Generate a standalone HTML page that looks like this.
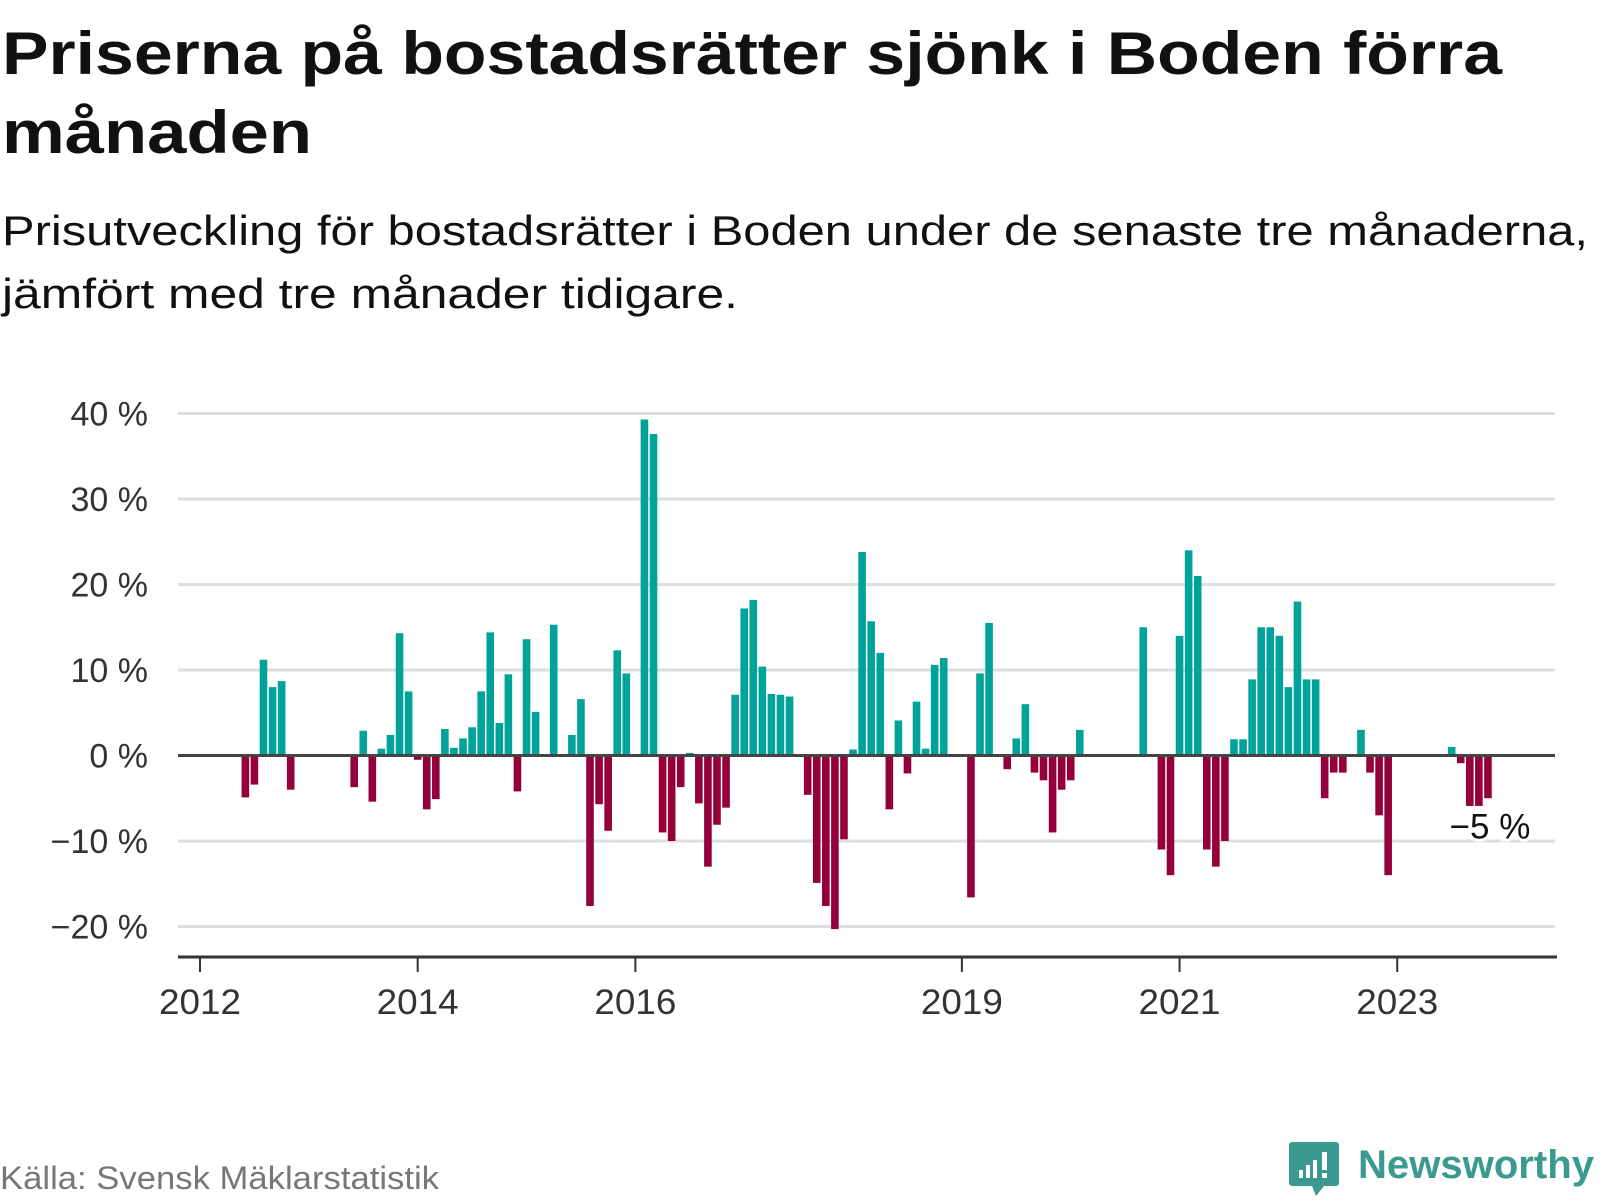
<!DOCTYPE html>
<html><head><meta charset="utf-8"><style>
html,body{margin:0;padding:0;background:#fff;}
svg{display:block;font-family:"Liberation Sans",sans-serif;}
</style></head><body>
<svg id="chart" width="1600" height="1200" viewBox="0 0 1600 1200">
<text x="2" y="74" font-size="60" font-weight="bold" fill="#111" textLength="1500" lengthAdjust="spacingAndGlyphs">Priserna på bostadsrätter sjönk i Boden förra</text>
<text x="2" y="153" font-size="60" font-weight="bold" fill="#111" textLength="310" lengthAdjust="spacingAndGlyphs">månaden</text>
<text x="2" y="245" font-size="42" fill="#111" textLength="1586" lengthAdjust="spacingAndGlyphs">Prisutveckling för bostadsrätter i Boden under de senaste tre månaderna,</text>
<text x="2" y="308" font-size="42" fill="#111" textLength="736" lengthAdjust="spacingAndGlyphs">jämfört med tre månader tidigare.</text>
<g id="grid"></g>
<g id="bars"></g>
<g id="axes"></g>
<text x="0" y="1189" font-size="32" fill="#777" textLength="439" lengthAdjust="spacingAndGlyphs">Källa: Svensk Mäklarstatistik</text>
<g>
<path d="M1292 1142 h44 a3 3 0 0 1 3 3 v38 a3 3 0 0 1 -3 3 h-12 l-8 10 l-4 -10 h-20 a3 3 0 0 1 -3 -3 v-38 a3 3 0 0 1 3 -3z" fill="#3a9a8f"/>
<rect x="1299" y="1170" width="4" height="8" fill="#fff"/>
<rect x="1306" y="1165" width="4" height="13" fill="#fff"/>
<rect x="1313" y="1160" width="4" height="18" fill="#fff"/>
<rect x="1322" y="1152" width="5" height="18" fill="#fff"/>
<rect x="1322" y="1173" width="5" height="5" fill="#fff"/>
<text x="1358" y="1178" font-size="40" font-weight="bold" fill="#3a9a8f" textLength="236" lengthAdjust="spacingAndGlyphs">Newsworthy</text>
</g>
</svg>
<script>
const monthIndex = [5,6,7,8,9,10,17,18,19,20,21,22,23,24,25,26,27,28,29,30,31,32,33,34,35,36,37,39,41,42,43,44,45,46,47,49,50,51,52,53,54,55,56,57,58,59,60,61,62,63,64,65,67,68,69,70,71,72,73,74,75,76,77,78,79,80,81,82,85,86,87,89,90,91,92,93,94,95,96,97,104,106,107,108,109,110,111,112,113,114,115,116,117,118,119,120,121,122,123,124,125,126,128,129,130,131,138,139,140,141,142];
const changeValues = [-4.9,-3.4,11.2,8.0,8.7,-4.0,-3.7,2.9,-5.4,0.8,2.4,14.3,7.5,-0.5,-6.3,-5.1,3.1,0.9,2.0,3.3,7.5,14.4,3.8,9.5,-4.2,13.6,5.1,15.3,2.4,6.6,-17.6,-5.7,-8.8,12.3,9.6,39.3,37.6,-9.0,-10.0,-3.7,0.3,-5.6,-13.0,-8.1,-6.1,7.1,17.2,18.2,10.4,7.2,7.1,6.9,-4.6,-14.9,-17.6,-20.3,-9.8,0.7,23.8,15.7,12.0,-6.3,4.1,-2.1,6.3,0.8,10.6,11.4,-16.6,9.6,15.5,-1.6,2.0,6.0,-2.0,-2.9,-9.0,-4.0,-2.9,3.0,15.0,-11.0,-14.0,14.0,24.0,21.0,-11.0,-13.0,-10.0,1.9,1.9,8.9,15.0,15.0,14.0,8.0,18.0,8.9,8.9,-5.0,-2.0,-2.0,3.0,-2.0,-7.0,-14.0,1.0,-0.9,-5.9,-5.9,-5.0];
const yTicks = [40,30,20,10,0,-10,-20];
const yTickLabels = ["40 %","30 %","20 %","10 %","0 %","−10 %","−20 %"];
const xTickYears = [2012,2014,2016,2019,2021,2023];
const lastLabel = "−5 %";

const NS = "http://www.w3.org/2000/svg";
const X0 = 200, PX_MONTH = 9.07, Y0 = 755.5, PX_PCT = 8.55;
const plotLeft = 178, plotRight = 1555;
function xScale(m){ return X0 + m*PX_MONTH; }
function yScale(v){ return Y0 - v*PX_PCT; }
function mk(tag, attrs, parent){ const e=document.createElementNS(NS,tag); for(const k in attrs) e.setAttribute(k,attrs[k]); parent.appendChild(e); return e; }

const grid=document.getElementById('grid'), bars=document.getElementById('bars'), axes=document.getElementById('axes');
yTicks.forEach((v,i)=>{
  if(v!==0){
    const l=mk('line',{x1:plotLeft,x2:plotRight,y1:yScale(v),y2:yScale(v),stroke:'#dedede','stroke-width':3},grid);
    
    
  }
  const t=mk('text',{x:148,y:yScale(v)+12,'font-size':34,fill:'#333','text-anchor':'end'},axes);
  t.textContent=yTickLabels[i];
  
  
});
monthIndex.forEach((m,i)=>{
  const v=changeValues[i];
  const y=v>=0?yScale(v):Y0;
  const r=mk('rect',{x:xScale(m)-3.8,y:y,width:7.6,height:Math.abs(v)*PX_PCT,fill:v>=0?'#00a399':'#95003a'},bars);
  
  
});
const zl=mk('line',{x1:plotLeft,x2:plotRight,y1:Y0,y2:Y0,stroke:'#444','stroke-width':3},axes);


const xa=mk('line',{x1:plotLeft,x2:plotRight+2,y1:957,y2:957,stroke:'#333','stroke-width':3},axes);


xTickYears.forEach(yr=>{
  const x=xScale((yr-2012)*12);
  const tk=mk('line',{x1:x,x2:x,y1:957,y2:972,stroke:'#333','stroke-width':2},axes);
  
  
  const t=mk('text',{x:x,y:1014,'font-size':35,fill:'#333','text-anchor':'middle',textLength:82,lengthAdjust:'spacingAndGlyphs'},axes);
  t.textContent=String(yr);
  
  
});
const lastM=monthIndex[monthIndex.length-1], lastV=changeValues[changeValues.length-1];
const lab=mk('text',{x:xScale(lastM)+2,y:yScale(lastV)+40,'font-size':35,fill:'#111','text-anchor':'middle',stroke:'#fff','stroke-width':6,'paint-order':'stroke'},axes);
lab.textContent=lastLabel;


</script>
</body></html>
